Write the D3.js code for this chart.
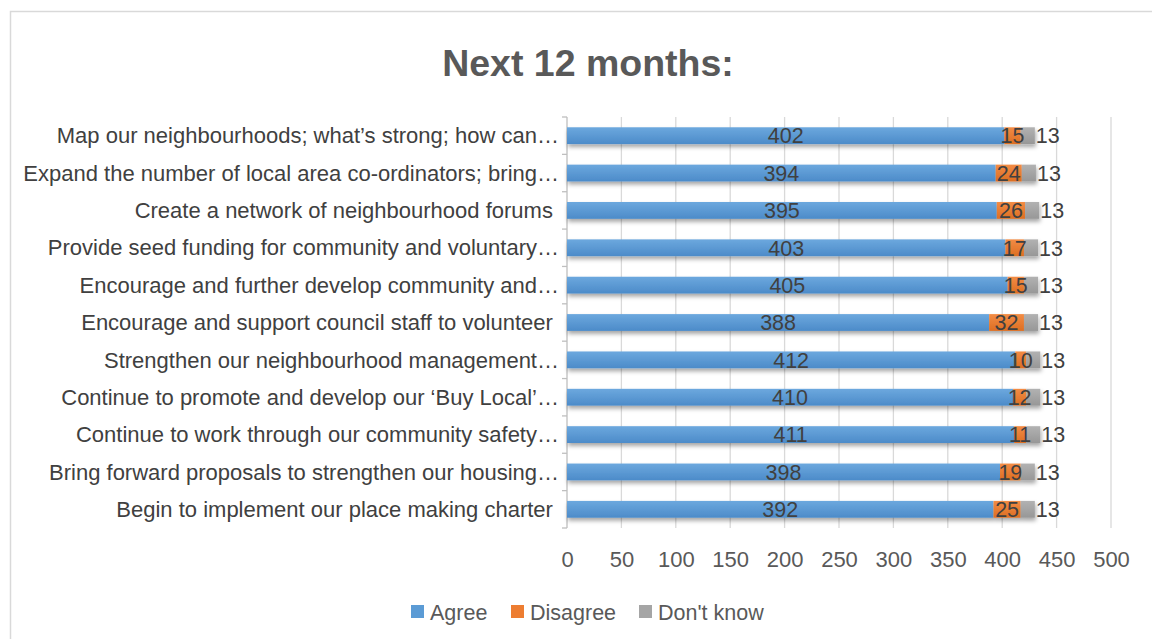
<!DOCTYPE html>
<html><head><meta charset="utf-8">
<script src="https://cdn.jsdelivr.net/npm/d3@7"></script>
<style>body{margin:0;background:#fff}svg{display:block}text{white-space:pre}</style>
</head><body>
<svg id="c" width="1152" height="639"></svg>
<script>
const categories = [
  "Map our neighbourhoods; what’s strong; how can…",
  "Expand the number of local area co-ordinators; bring…",
  "Create a network of neighbourhood forums ",
  "Provide seed funding for community and voluntary…",
  "Encourage and further develop community and…",
  "Encourage and support council staff to volunteer ",
  "Strengthen our neighbourhood management…",
  "Continue to promote and develop our ‘Buy Local’…",
  "Continue to work through our community safety…",
  "Bring forward proposals to strengthen our housing…",
  "Begin to implement our place making charter "
];
const agree    = [402,394,395,403,405,388,412,410,411,398,392];
const disagree = [15,24,26,17,15,32,10,12,11,19,25];
const dontKnow = [13,13,13,13,13,13,13,13,13,13,13];
const seriesNames = ["Agree","Disagree","Don't know"];
const xTicks = [0,50,100,150,200,250,300,350,400,450,500];
const title = "Next 12 months:";

const colors = ["#5B9BD5","#ED7D31","#A5A5A5"];
const font = "'Liberation Sans', Arial, sans-serif";
const svg = d3.select("#c");

// chart border
svg.append("rect").attr("x",10.5).attr("y",11.5).attr("width",1160).attr("height",660)
  .attr("fill","#fff").attr("stroke","#D9D9D9").attr("stroke-width",1.5);

const defs = svg.append("defs");
const grads = [["#6CA8DE","#4C8BC9"],["#F28C45","#DD6E22"],["#B2B2B2","#979797"]];
grads.forEach((g,i)=>{
  const lg = defs.append("linearGradient").attr("id","g"+i).attr("x1",0).attr("y1",0).attr("x2",0).attr("y2",1);
  lg.append("stop").attr("offset","0%").attr("stop-color",g[0]);
  lg.append("stop").attr("offset","100%").attr("stop-color",g[1]);
});
const f = defs.append("filter").attr("id","sh").attr("x","-5%").attr("y","-30%").attr("width","110%").attr("height","200%");
f.append("feDropShadow").attr("dx",1).attr("dy",3).attr("stdDeviation",2).attr("flood-color","#000").attr("flood-opacity",0.35);

const x = d3.scaleLinear().domain([0,500]).range([567,1111]);
const y = d3.scaleBand().domain(categories).range([117,528]).paddingInner(0.55).paddingOuter(0.275);
const yb = d3.scaleBand().domain(categories).range([117,528]);

// title
svg.append("text").attr("x",588).attr("y",76).attr("text-anchor","middle")
  .attr("font-family",font).attr("font-weight","bold").attr("font-size",37.5).attr("fill","#595959").text(title);

// gridlines
svg.append("g").selectAll("line").data(xTicks.slice(1)).join("line")
  .attr("x1",d=>x(d)).attr("x2",d=>x(d)).attr("y1",117).attr("y2",528)
  .attr("stroke","#D9D9D9").attr("stroke-width",1.3);

// x axis labels
const xa = svg.append("g").attr("transform","translate(0,528)")
  .call(d3.axisBottom(x).tickValues(xTicks).tickSize(0).tickPadding(23));
xa.select(".domain").remove();
xa.selectAll("text").attr("font-family",font).attr("font-size",22).attr("fill","#595959");

// y axis
svg.append("line").attr("x1",567).attr("x2",567).attr("y1",117).attr("y2",528).attr("stroke","#BFBFBF").attr("stroke-width",1.3);
const bounds = categories.map(c=>yb(c)).concat([528]);
svg.append("g").selectAll("line").data(bounds).join("line")
  .attr("x1",562).attr("x2",567).attr("y1",d=>d).attr("y2",d=>d).attr("stroke","#BFBFBF").attr("stroke-width",1.3);
svg.append("g").selectAll("text").data(categories).join("text")
  .attr("x",559).attr("y",c=>yb(c)+yb.bandwidth()/2).attr("dy","0.35em")
  .attr("text-anchor","end").attr("font-family",font).attr("font-size",22).attr("fill","#404040")
  .text(d=>d);

// stacked bars
const rows = categories.map((c,i)=>({cat:c, vals:[agree[i],disagree[i],dontKnow[i]]}));
const gBars = svg.append("g").attr("filter","url(#sh)");
rows.forEach(r=>{
  let cum=0;
  r.vals.forEach((v,k)=>{
    gBars.append("rect").attr("x",x(cum)).attr("width",x(cum+v)-x(cum))
      .attr("y",y(r.cat)).attr("height",y.bandwidth()).attr("fill","url(#g"+k+")");
    cum+=v;
  });
});
// labels
rows.forEach(r=>{
  let cum=0;
  r.vals.forEach((v,k)=>{
    const cy = y(r.cat)+y.bandwidth()/2;
    const t = svg.append("text").attr("y",cy).attr("dy","0.36em")
      .attr("font-family",font).attr("font-size",21.5).attr("fill","#404040").text(v);
    if(k<2) t.attr("x",(x(cum)+x(cum+v))/2).attr("text-anchor","middle");
    else t.attr("x",x(cum+v)+1).attr("text-anchor","start");
    cum+=v;
  });
});

// legend
const legX = [411,511,639];
const lg = svg.append("g");
seriesNames.forEach((n,i)=>{
  lg.append("rect").attr("x",legX[i]).attr("y",605).attr("width",13).attr("height",13).attr("fill",colors[i]);
  lg.append("text").attr("x",legX[i]+19).attr("y",612).attr("dy","0.35em")
    .attr("font-family",font).attr("font-size",21.5).attr("fill","#595959").text(n);
});
</script>
</body></html>
